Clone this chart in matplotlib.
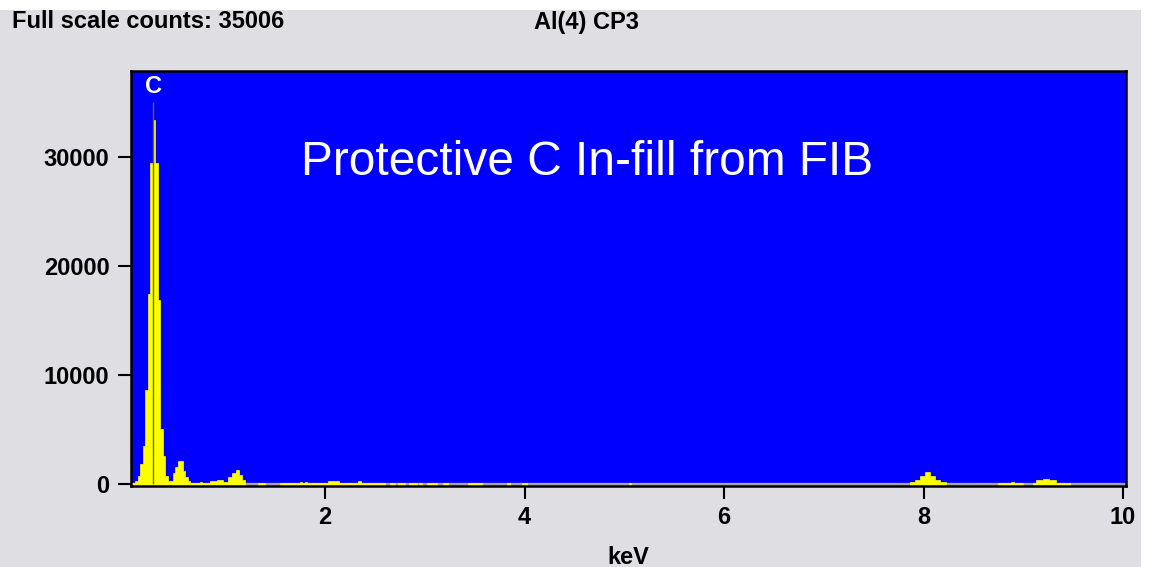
import matplotlib
matplotlib.use('Agg')
import matplotlib.pyplot as plt
from matplotlib.patches import Rectangle
import numpy as np

plt.rcParams['font.family'] = ['Liberation Sans', 'DejaVu Sans']

# EDS spectrum (bin edges in keV, counts per bin)
# C K / O K region
co_edges = [0.050, 0.075, 0.100, 0.125, 0.150, 0.175, 0.200, 0.225, 0.250, 0.275,
            0.300, 0.325, 0.350, 0.375, 0.400, 0.425, 0.450, 0.475, 0.500, 0.525,
            0.550, 0.575, 0.600, 0.625, 0.650]
co_counts = [60, 120, 300, 700, 1800, 3500, 8600, 17400, 29400, 33400,
             29400, 16900, 5000, 2600, 700, 250, 300, 1000, 1600, 2150,
             2100, 1200, 600, 250]
# L lines and low background, 0.65 - 2.6 keV
low_edges = [0.75, 0.77, 0.85, 0.915, 0.98, 1.03, 1.07, 1.105, 1.14, 1.17, 1.20,
             1.33, 1.40, 1.55, 1.75, 1.77, 1.80, 1.82, 2.03, 2.14, 2.33, 2.36, 2.60]
low_counts = [100, 180, 100, 300, 380, 150, 670, 1000, 1280, 830, 370,
              0, 60, 0, 60, 200, 60, 200, 60, 300, 60, 250, 60]
# scattered background counts, 2.6 - 7.9 keV
mid_edges = [2.65, 2.70, 2.73, 2.80, 2.84, 2.92, 2.94, 2.97, 3.02, 3.12, 3.18, 3.23,
             3.43, 3.57, 3.82, 3.85, 3.97, 3.99, 4.00, 4.02, 5.05, 5.07, 7.865]
mid_counts = [0, 60, 0, 60, 0, 60, 0, 60, 0, 60, 0, 60,
              0, 60, 0, 60, 0, 60, 0, 60, 0, 60, 0]
# Cu K region and above
hi_edges = [7.915, 7.965, 8.015, 8.065, 8.115, 8.165, 8.23, 8.75, 8.88, 8.91, 9.00,
            9.10, 9.13, 9.20, 9.26, 9.33, 9.47, 10.03]
hi_counts = [150, 370, 760, 1070, 760, 370, 150, 0, 60, 200, 60,
             0, 60, 370, 450, 370, 60, 0]

full_scale = 35006
c_line_kev = 0.277

x_ticks = [2, 4, 6, 8, 10]
y_ticks = [0, 10000, 20000, 30000]

edges = np.array(co_edges + low_edges + mid_edges + hi_edges)
counts = np.array(co_counts + low_counts + mid_counts + hi_counts)

fig = plt.figure(figsize=(11.56, 5.67), dpi=100, facecolor='white')
fig.patches.append(Rectangle((0, 0), 1141 / 1156, 557 / 567, transform=fig.transFigure,
                             facecolor='#dfdfe3', edgecolor='none', zorder=-10))
ax = fig.add_axes([131 / 1156, 81 / 567, 995 / 1156, 415.3 / 567])
ax.set_facecolor('#0000ff')

# zero line shows through where there are no counts
ax.axhline(0, color='#a6a6a6', lw=2.4, zorder=1)
pad = 150
# empty bins collapse onto the baseline so the gray zero line stays visible
heights = np.where(counts > 0, counts, -pad)
ax.stairs(heights, edges, baseline=-pad, fill=True, facecolor='#ffff00',
          edgecolor='#ffff00', linewidth=0.5, zorder=2)
ax.vlines(c_line_kev, 0, full_scale, color='#6f6f00', lw=1.0, zorder=3)
ax.text(c_line_kev, 36450, 'C', color='white', fontsize=17, fontweight='bold',
        ha='center', va='center', zorder=4)
ax.text(0.171, 0.778, 'Protective C In-fill from FIB', transform=ax.transAxes,
        color='white', fontsize=34.5, ha='left', va='center')

ax.set_xlim(0.055, 10.03)
ax.set_ylim(-185, 37900)
ax.set_xticks(x_ticks)
ax.set_yticks(y_ticks)
ax.tick_params(direction='out', length=9.5, width=1.5, colors='black', labelsize=17)
ax.tick_params(axis='y', pad=6)
ax.tick_params(axis='x', pad=5)
for lab in ax.get_xticklabels() + ax.get_yticklabels():
    lab.set_fontweight('bold')
for s in ax.spines.values():
    s.set_color('black')
    s.set_linewidth(1.8)
ax.set_xlabel('keV', fontsize=17, fontweight='bold', labelpad=12)

fig.text(12 / 1156, 1 - 22 / 567, 'Full scale counts: 35006', fontsize=17,
         fontweight='bold', ha='left', va='center')
fig.text(587 / 1156, 1 - 22 / 567, 'Al(4) CP3', fontsize=17,
         fontweight='bold', ha='center', va='center')

fig.savefig('out.png', dpi=100, facecolor=fig.get_facecolor())
